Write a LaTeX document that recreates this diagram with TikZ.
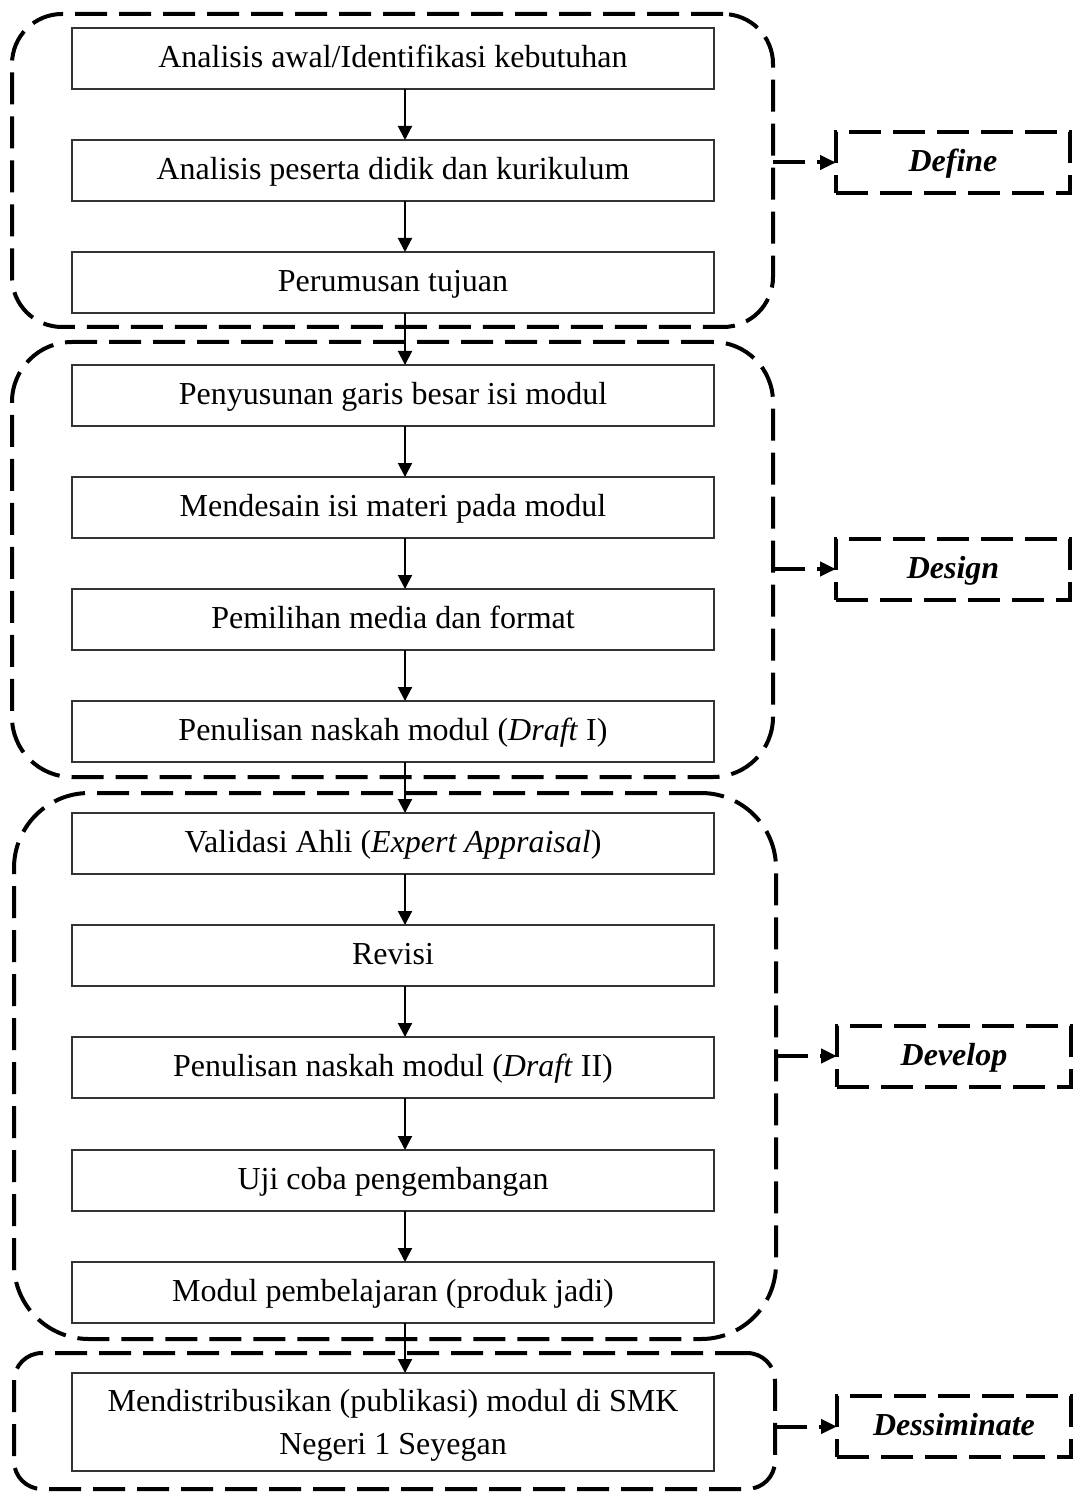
\documentclass[tikz,border=0pt]{standalone}
\usepackage{fontspec}
\setmainfont{Liberation Serif}
\usetikzlibrary{arrows.meta}
\begin{document}
\begin{tikzpicture}[x=0.5pt,y=-0.5pt,
 stepbox/.style={draw=black!80, line width=0.8pt, minimum width=321pt, minimum height=30.5pt, inner sep=0pt, outer sep=0pt, align=center, text height=12pt, text depth=3pt, font=\fontsize{16}{21.5}\selectfont},
 grp/.style={draw, line width=2pt, dash pattern=on 16pt off 6pt, inner sep=0pt, outer sep=0pt},
 lab/.style={draw, line width=2pt, dash pattern=on 16pt off 6pt, minimum width=117pt, minimum height=30.5pt, inner sep=0pt, outer sep=0pt, text height=12pt, text depth=3pt, font=\fontsize{16}{20}\selectfont\bfseries\itshape},
 flow/.style={line width=1pt, -{Triangle[length=7pt,width=7pt]}},
 link/.style={line width=2pt, dash pattern=on 16pt off 6pt, -{Triangle[length=8pt,width=7pt]}}
]
\useasboundingbox (0,0) rectangle (1073,1492);
\coordinate (ax) at (405,0);

% groups
\node[grp, rounded corners=25pt, minimum width=380.5pt, minimum height=156.5pt] (gdef) at (392.5,170.5) {};
\node[grp, rounded corners=30pt, minimum width=380.5pt, minimum height=217.5pt] (gdes) at (392.5,559.5) {};
\node[grp, rounded corners=37.5pt, minimum width=381pt, minimum height=273pt] (gdev) at (395,1066) {};
\node[grp, rounded corners=14pt, minimum width=380.5pt, minimum height=68pt] (gdis) at (394.5,1421) {};

% steps
\node[stepbox] (b1) at (393,58.5) {Analisis awal/Identifikasi kebutuhan};
\node[stepbox] (b2) at (393,170.5) {Analisis peserta didik dan kurikulum};
\node[stepbox] (b3) at (393,282.5) {Perumusan tujuan};
\node[stepbox] (b4) at (393,395.5) {Penyusunan garis besar isi modul};
\node[stepbox] (b5) at (393,507.5) {Mendesain isi materi pada modul};
\node[stepbox] (b6) at (393,619.5) {Pemilihan media dan format};
\node[stepbox] (b7) at (393,731.5) {Penulisan naskah modul (\textit{Draft} I)};
\node[stepbox] (b8) at (393,843.5) {Validasi Ahli (\textit{Expert Appraisal})};
\node[stepbox] (b9) at (393,955.5) {Revisi};
\node[stepbox] (b10) at (393,1067.5) {Penulisan naskah modul (\textit{Draft} II)};
\node[stepbox] (b11) at (393,1180.5) {Uji coba pengembangan};
\node[stepbox] (b12) at (393,1292.5) {Modul pembelajaran (produk jadi)};
\node[stepbox, minimum height=49pt, text height=, text depth=] (b13) at (393,1422) {\rule{0pt}{14.5pt}Mendistribusikan (publikasi) modul di SMK\\Negeri 1 Seyegan};

% labels
\node[lab] (ldef) at (953,162.5) {Define};
\node[lab] (ldes) at (953,569) {Design};
\node[lab] (ldev) at (954,1056) {Develop};
\node[lab] (ldis) at (954,1426.5) {Dessiminate};

% flow arrows
\foreach \a/\b in {b1/b2,b2/b3,b3/b4,b4/b5,b5/b6,b6/b7,b7/b8,b8/b9,b9/b10,b10/b11,b11/b12,b12/b13}
  \draw[flow] (\a.south -| ax) -- (\b.north -| ax);

% links
\draw[link] (gdef.east |- ldef) -- (ldef.west);
\draw[link] (gdes.east |- ldes) -- (ldes.west);
\draw[link] (gdev.east |- ldev) -- (ldev.west);
\draw[link] (gdis.east |- ldis) -- (ldis.west);
\end{tikzpicture}
\end{document}
